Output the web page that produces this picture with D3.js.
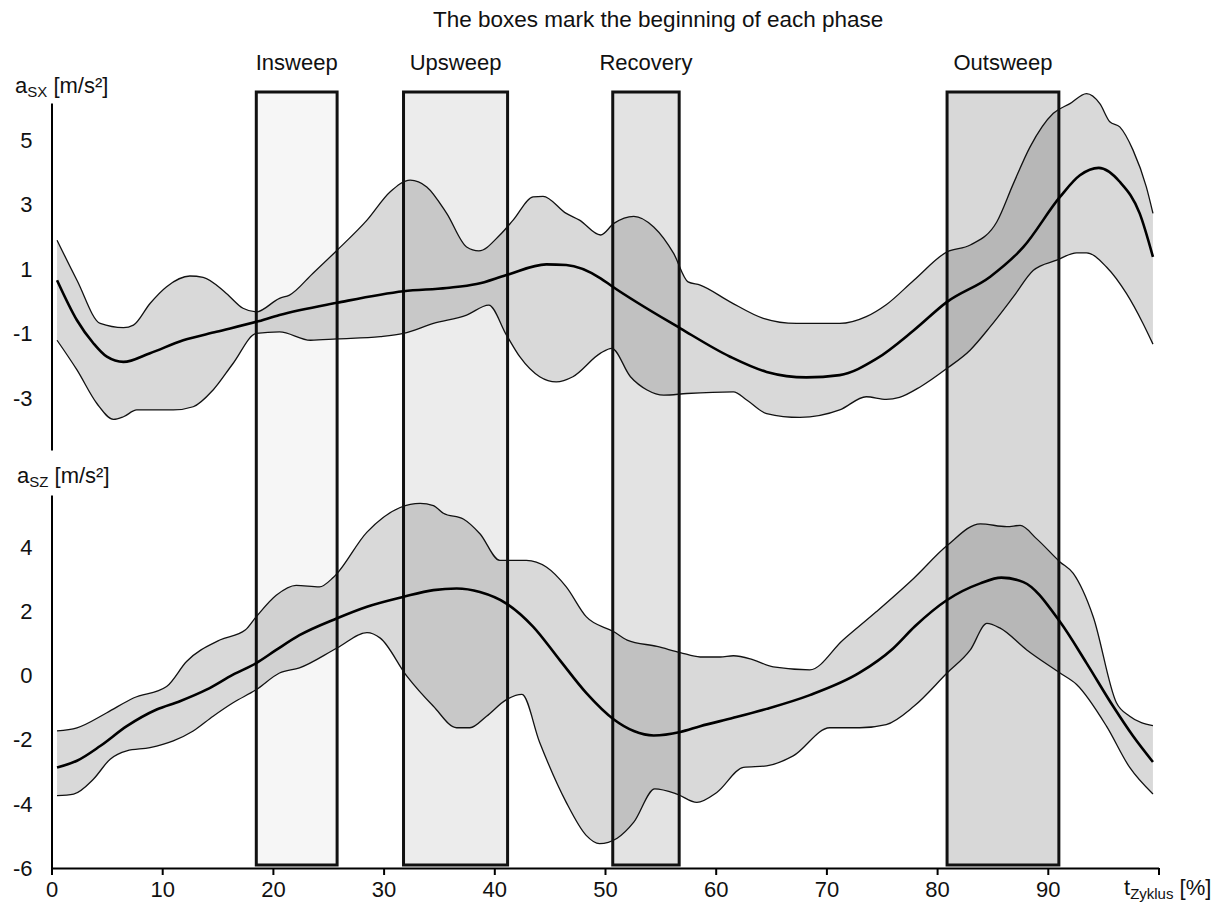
<!DOCTYPE html>
<html>
<head>
<meta charset="utf-8">
<script src="https://cdn.jsdelivr.net/npm/d3@7"></script>
<style>
  body { margin: 0; background: #fff; }
  svg { display: block; font-family: "Liberation Sans", Arial, sans-serif; }
</style>
</head>
<body>
<svg id="chart" width="1220" height="907"></svg>
<script>
(function() {

  // phases: [label, start %, end %]
  var phases = [
    ["Insweep", 18.5, 25.8],
    ["Upsweep", 31.8, 41.2],
    ["Recovery", 50.7, 56.7],
    ["Outsweep", 80.9, 91.0]
  ];
  var phaseFills = ["#f6f6f6", "#ececec", "#e3e3e3", "#d8d8d8"];

  var xTicks = [0, 10, 20, 30, 40, 50, 60, 70, 80, 90, 100];
  var sxTicks = [5, 3, 1, -1, -3];
  var szTicks = [4, 2, 0, -2, -4, -6];

  // a_SX [m/s²] : mean, upper and lower bound
  var sxMean = [[0.5,0.66],[2.3,-0.58],[3.8,-1.3],[5,-1.71],[6.5,-1.87],[8.9,-1.6],[11.9,-1.2],
    [14.9,-0.94],[18.5,-0.63],[20.6,-0.42],[25.8,-0.04],[31.8,0.32],[35.7,0.42],[38.4,0.54],
    [41.1,0.82],[44.7,1.15],[46.5,1.13],[49.6,0.72],[50.6,0.48],[56.8,-0.83],[61.3,-1.71],
    [64.6,-2.18],[68.2,-2.35],[71.2,-2.28],[74.5,-1.78],[77.9,-0.89],[80.9,-0.01],[84.8,0.77],
    [87.8,1.69],[91.1,3.24],[92.9,3.91],[94.6,4.14],[96.5,3.71],[98.3,2.73],[99.5,1.38]];
  var sxUpper = [[0.5,1.9],[2.3,0.66],[4.4,-0.68],[6.5,-0.81],[7.4,-0.73],[8.9,-0.06],[10.4,0.46],
    [12.5,0.79],[13.7,0.75],[15.8,0.25],[17.3,-0.21],[18.5,-0.32],[20.6,0.1],[21.5,0.2],[23.6,0.87],
    [25.8,1.59],[28.5,2.52],[30.6,3.4],[32.4,3.76],[33.9,3.55],[35.7,2.73],[37.5,1.69],[38.6,1.57],
    [40.5,2.06],[41.7,2.52],[43.5,3.24],[44.4,3.26],[46.5,2.73],[47.7,2.52],[49.6,2.06],[50.8,2.42],
    [52.6,2.64],[54.4,2.31],[56.2,1.49],[57.5,0.61],[58.6,0.51],[61.3,-0.01],[64.3,-0.52],[67.3,-0.68],
    [71.2,-0.68],[73.6,-0.47],[75.4,-0.1],[77.9,0.66],[80.9,1.54],[83,1.75],[85.4,2.47],[86.9,3.66],
    [88.4,4.79],[90.5,5.83],[92,6.13],[93.5,6.44],[94.7,6.13],[95.6,5.57],[96.5,5.41],[97.7,4.69],
    [98.9,3.55],[99.5,2.73]];
  var sxLower = [[0.5,-1.2],[2.3,-2.12],[4.1,-3.16],[5.6,-3.65],[6.5,-3.57],[7.7,-3.36],[11,-3.36],
    [12.8,-3.26],[14.6,-2.74],[16.4,-1.92],[18.5,-0.99],[20.6,-0.94],[23.4,-1.2],[25.8,-1.16],
    [29.7,-1.09],[31.8,-0.99],[34.5,-0.68],[37.5,-0.42],[39.5,-0.11],[41.1,-1.04],[42.3,-1.71],
    [44.1,-2.33],[45.6,-2.49],[47.1,-2.33],[49.6,-1.6],[50.6,-1.45],[52.3,-2.33],[53.8,-2.74],
    [55.3,-2.9],[57.4,-2.85],[61.6,-2.8],[62.8,-3.05],[64.6,-3.47],[67.6,-3.59],[71.2,-3.36],
    [73.6,-2.95],[75.4,-3.03],[76.6,-2.97],[78.5,-2.64],[80.9,-2.07],[83,-1.5],[84.8,-0.78],
    [86.9,0.15],[88.7,0.97],[90.8,1.28],[92.6,1.51],[93.5,1.51],[95.3,1.07],[97.1,0.25],
    [98.6,-0.68],[99.5,-1.32]];

  // a_SZ [m/s²] : mean, upper and lower bound
  var szMean = [[0.5,-2.86],[2.3,-2.65],[4.4,-2.19],[6.8,-1.57],[9.5,-1.05],[11.6,-0.79],[14,-0.43],
    [16.4,0.04],[18.5,0.4],[20.3,0.81],[22.4,1.27],[25.8,1.8],[28.5,2.16],[31.8,2.47],[34.5,2.68],
    [36.6,2.73],[38.7,2.62],[41.1,2.26],[43.5,1.54],[45.9,0.5],[48.3,-0.53],[50.8,-1.36],[52.6,-1.72],
    [54.4,-1.86],[56.8,-1.75],[58.6,-1.57],[61.6,-1.31],[64.6,-1.03],[68.5,-0.6],[73,0.1],[76,0.85],
    [78,1.55],[80.9,2.37],[83.9,2.89],[85.8,3.07],[87.8,2.93],[91.1,1.69],[93.5,0.4],[95.9,-0.95],
    [97.7,-1.88],[99.5,-2.69]];
  var szUpper = [[0.5,-1.72],[2.3,-1.62],[5,-1.15],[7.4,-0.69],[10.4,-0.33],[12.2,0.45],[15.2,1.12],
    [17.5,1.43],[18.5,1.85],[20.3,2.52],[22.1,2.83],[24.2,2.78],[25.5,3.09],[28.5,4.49],[31.5,5.26],
    [33.3,5.39],[34.5,5.32],[35.4,5.08],[37.2,4.9],[38.7,4.44],[40.5,3.61],[42.9,3.61],[44.7,3.4],
    [46.5,2.78],[48.3,1.85],[50.8,1.38],[52,1.12],[54.7,0.92],[56.8,0.73],[58.6,0.59],[60.4,0.59],
    [61.6,0.63],[63.4,0.5],[65.2,0.28],[68.5,0.19],[71.5,1.12],[74.5,2.0],[77.9,3.05],[80.9,4.07],
    [83.9,4.75],[86.3,4.66],[87.5,4.7],[89,4.28],[91.1,3.56],[92.3,3.2],[94.1,1.85],[96.2,-0.84],
    [97.4,-1.26],[99.5,-1.55]];
  var szLower = [[0.5,-3.74],[2,-3.69],[3.8,-3.22],[5.3,-2.6],[6.8,-2.34],[8.9,-2.24],[11,-2.03],
    [12.8,-1.72],[14.6,-1.26],[16.4,-0.84],[18.5,-0.43],[20.6,0.09],[22.4,0.25],[25.8,0.87],
    [28.5,1.35],[29.7,1.18],[32.1,-0.01],[34.5,-0.95],[36.6,-1.62],[37.8,-1.62],[39.3,-1.26],
    [41.1,-0.74],[42.5,-0.58],[44.1,-2.08],[46.5,-3.95],[48.3,-4.98],[49.5,-5.24],[51.1,-5.07],
    [52.6,-4.57],[54.5,-3.53],[56.5,-3.69],[58.3,-3.95],[60.1,-3.64],[62.5,-2.86],[64.6,-2.81],
    [67,-2.5],[70.3,-1.62],[73,-1.62],[75.4,-1.52],[77.9,-0.95],[80.9,0.09],[83,0.81],[84.5,1.64],
    [85.7,1.49],[88.1,0.81],[91.1,0.09],[92.6,-0.27],[95.3,-1.57],[97.4,-2.86],[99.5,-3.69]];

  var svg = d3.select("#chart");

  var x = d3.scaleLinear().domain([0, 100]).range([51.5, 1158.5]);
  var yTop = d3.scaleLinear().domain([-4.6, 6.15]).range([450, 103]);
  var yBot = d3.scaleLinear().domain([-6, 5.65]).range([868, 495]);

  // title (sits right of centre in the original)
  svg.append("text")
    .attr("x", 433).attr("y", 27)
    .attr("font-size", 22.5)
    .attr("fill", "#111")
    .text("The boxes mark the beginning of each phase");

  // phase boxes
  var boxTop = 92, boxBottom = 865;
  var boxes = svg.append("g").attr("class", "phases");
  boxes.selectAll("rect").data(phases).enter().append("rect")
    .attr("x", d => x(d[1]))
    .attr("y", boxTop)
    .attr("width", d => x(d[2]) - x(d[1]))
    .attr("height", boxBottom - boxTop)
    .attr("fill", (d, i) => phaseFills[i])
    .attr("stroke", "#111")
    .attr("stroke-width", 3);

  boxes.selectAll("text").data(phases).enter().append("text")
    .attr("x", d => (x(d[1]) + x(d[2])) / 2)
    .attr("y", 70)
    .attr("text-anchor", "middle")
    .attr("font-size", 22)
    .attr("fill", "#111")
    .text(d => d[0]);

  function drawPanel(y, mean, upper, lower) {
    var line = d3.line().x(d => x(d[0])).y(d => y(d[1])).curve(d3.curveMonotoneX);
    var g = svg.append("g");

    var band = line(upper) + line(lower.slice().reverse()).replace(/^M/, "L") + "Z";
    g.append("path")
      .attr("d", band)
      .attr("fill", "#000")
      .attr("fill-opacity", 0.15)
      .attr("stroke", "none");

    [upper, lower].forEach(function(s) {
      g.append("path")
        .attr("d", line(s))
        .attr("fill", "none")
        .attr("stroke", "#111")
        .attr("stroke-width", 1.3);
    });

    g.append("path")
      .attr("d", line(mean))
      .attr("fill", "none")
      .attr("stroke", "#000")
      .attr("stroke-width", 2.6);
  }

  drawPanel(yTop, sxMean, sxUpper, sxLower);
  drawPanel(yBot, szMean, szUpper, szLower);

  function styleAxis(g) {
    g.select(".domain").attr("stroke", "#000").attr("stroke-width", 2);
    g.selectAll(".tick line").attr("stroke", "#000").attr("stroke-width", 2);
    g.selectAll(".tick text")
      .attr("font-size", 22)
      .attr("font-family", "Liberation Sans, Arial, sans-serif")
      .attr("fill", "#111");
  }

  // plain hyphen for negatives, as in the original
  var fmt = d => String(d);

  svg.append("g")
    .attr("transform", "translate(" + x(0) + ",0)")
    .call(d3.axisLeft(yTop).tickValues(sxTicks).tickFormat(fmt).tickSize(0).tickPadding(19))
    .call(styleAxis);

  svg.append("g")
    .attr("transform", "translate(" + x(0) + ",0)")
    .call(d3.axisLeft(yBot).tickValues(szTicks).tickFormat(fmt).tickSize(0).tickPadding(19))
    .call(styleAxis);

  svg.append("g")
    .attr("transform", "translate(0," + yBot(-6) + ")")
    .call(d3.axisBottom(x).tickValues(xTicks).tickSizeInner(7).tickSizeOuter(0).tickPadding(6)
      .tickFormat(d => d === 100 ? "" : fmt(d)))
    .call(styleAxis);

  // axis titles with subscripts
  function axisTitle(px, py, main, sub, rest) {
    var t = svg.append("text").attr("x", px).attr("y", py)
      .attr("font-size", 22).attr("fill", "#111");
    t.append("tspan").text(main);
    t.append("tspan").attr("font-size", 15).attr("dy", 4).text(sub);
    t.append("tspan").attr("dy", -4).text(" " + rest);
  }
  axisTitle(15, 93, "a", "SX", "[m/s²]");
  axisTitle(17, 483, "a", "SZ", "[m/s²]");
  axisTitle(1124, 895, "t", "Zyklus", "[%]");

})();
</script>
</body>
</html>
